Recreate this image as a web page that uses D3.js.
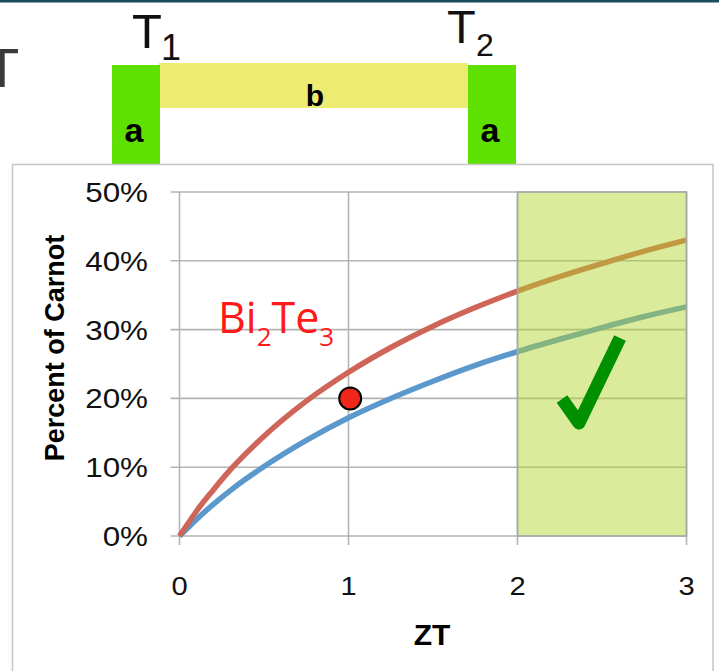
<!DOCTYPE html>
<html>
<head>
<meta charset="utf-8">
<script src="https://cdn.jsdelivr.net/npm/d3@7"></script>
<style>
  html, body { margin: 0; padding: 0; background: #fff; }
  svg { display: block; }
</style>
</head>
<body>
<svg id="chart" width="719" height="671"></svg>
<script>
// ZT values at which the efficiency curves are sampled
const zt = [0, 0.05, 0.1, 0.2, 0.3, 0.5, 0.75, 1, 1.25, 1.5, 1.75, 2, 2.25, 2.5, 2.75, 3];
// Percent of Carnot efficiency (fraction) for the two operating conditions
const upperCurve = [0, 0.018, 0.036, 0.067, 0.096, 0.145, 0.196, 0.238, 0.274, 0.305, 0.332, 0.356, 0.377, 0.396, 0.414, 0.430];
const lowerCurve = [0, 0.012, 0.024, 0.046, 0.066, 0.101, 0.139, 0.172, 0.200, 0.225, 0.248, 0.268, 0.286, 0.303, 0.319, 0.333];
// Bi2Te3 marker
const markerZT = [1.01];
const markerPct = [0.20];
// Axis ticks
const xTicks = [0, 1, 2, 3];
const yTicks = [0, 0.1, 0.2, 0.3, 0.4, 0.5];
// Shaded target band on the ZT axis
const band = [2, 3];

const svg = d3.select("#chart");

// Title bar strip at the very top
svg.append("rect").attr("x", 0).attr("y", 0).attr("width", 719).attr("height", 2.5).attr("fill", "#1c4a5e");

// Thermoelectric leg diagram: legs a, bridge b
svg.append("rect").attr("x", 159).attr("y", 63).attr("width", 309).attr("height", 45).attr("fill", "#eeeb72");
svg.append("rect").attr("x", 112).attr("y", 65).attr("width", 48).attr("height", 99.5).attr("fill", "#5ee000");
svg.append("rect").attr("x", 468).attr("y", 65).attr("width", 48).attr("height", 99.5).attr("fill", "#5ee000");

const bold = "'Liberation Sans', Arial, sans-serif";
svg.append("text").attr("x", 315).attr("y", 106).attr("text-anchor", "middle")
  .attr("font-family", bold).attr("font-weight", "bold").attr("font-size", 30).attr("fill", "#000").text("b");
[134, 490].forEach(cx => {
  svg.append("text").attr("x", cx).attr("y", 142).attr("text-anchor", "middle")
    .attr("font-family", bold).attr("font-weight", "bold").attr("font-size", 34).attr("fill", "#000").text("a");
});

// Temperature labels
svg.append("text").attr("x", -15).attr("y", 87).attr("font-family", bold).attr("font-size", 56).attr("fill", "#3a3a3a").text("T");
svg.append("text").attr("x", 132).attr("y", 48).attr("font-family", bold).attr("font-size", 49).attr("fill", "#111").text("T");
svg.append("text").attr("x", 161).attr("y", 60).attr("font-family", bold).attr("font-size", 36).attr("fill", "#111").text("1");
svg.append("text").attr("x", 447).attr("y", 43).attr("font-family", bold).attr("font-size", 47).attr("fill", "#111").text("T");
svg.append("text").attr("x", 476).attr("y", 56).attr("font-family", bold).attr("font-size", 32).attr("fill", "#111").text("2");

// Chart frame
svg.append("rect").attr("x", 12.5).attr("y", 164.5).attr("width", 700.5).attr("height", 560)
  .attr("fill", "none").attr("stroke", "#c8c8c8").attr("stroke-width", 1.6);

// Scales
const x = d3.scaleLinear().domain([0, 3]).range([179.5, 686.5]);
const y = d3.scaleLinear().domain([0, 0.5]).range([536, 192]);

const gridColor = "#b4b4b4";
const plot = svg.append("g");

// Horizontal gridlines with left tick stubs
plot.selectAll("line.hgrid").data(yTicks).join("line")
  .attr("class", "hgrid")
  .attr("x1", x(0) - 9).attr("x2", x(3))
  .attr("y1", d => y(d)).attr("y2", d => y(d))
  .attr("stroke", gridColor).attr("stroke-width", 1.6);
// Vertical gridlines with bottom tick stubs
plot.selectAll("line.vgrid").data(xTicks).join("line")
  .attr("class", "vgrid")
  .attr("x1", d => x(d)).attr("x2", d => x(d))
  .attr("y1", y(0.5)).attr("y2", y(0) + 9)
  .attr("stroke", gridColor).attr("stroke-width", 1.6);

// Curves
const line = d3.line().x(d => x(d[0])).y(d => y(d[1])).curve(d3.curveMonotoneX);
plot.append("path").datum(zt.map((z, i) => [z, lowerCurve[i]]))
  .attr("d", line).attr("fill", "none").attr("stroke", "#5b98cc").attr("stroke-width", 5.5);
plot.append("path").datum(zt.map((z, i) => [z, upperCurve[i]]))
  .attr("d", line).attr("fill", "none").attr("stroke", "#cf6458").attr("stroke-width", 5.5);

// Translucent target band over the curves
plot.append("rect")
  .attr("x", x(band[0])).attr("y", y(0.5))
  .attr("width", x(band[1]) - x(band[0])).attr("height", y(0) - y(0.5))
  .attr("fill", "rgb(179,213,45)").attr("fill-opacity", 0.47);
plot.append("rect")
  .attr("x", x(band[0])).attr("y", y(0.5))
  .attr("width", x(band[1]) - x(band[0])).attr("height", y(0) - y(0.5))
  .attr("fill", "none").attr("stroke", "#a8a8a8").attr("stroke-width", 1.6);

// Bi2Te3 marker
plot.selectAll("circle.pt").data(markerZT.map((z, i) => [z, markerPct[i]])).join("circle")
  .attr("class", "pt")
  .attr("cx", d => x(d[0])).attr("cy", d => y(d[1])).attr("r", 11)
  .attr("fill", "#f0261a").attr("stroke", "#000").attr("stroke-width", 2);

// Check mark in the band
plot.append("path").attr("d", "M562,399 L579,423 L620,338")
  .attr("fill", "none").attr("stroke", "#009000").attr("stroke-width", 13)
  .attr("stroke-linejoin", "round").attr("stroke-linecap", "butt");

// Tick labels
const tickFont = "'Liberation Sans', Helvetica, Arial, sans-serif";
const stretch = function () {
  const w = this.getComputedTextLength();
  d3.select(this).attr("textLength", w * 1.12).attr("lengthAdjust", "spacingAndGlyphs");
};
const fmt = d3.format(".0%");
svg.selectAll("text.ylab").data(yTicks).join("text")
  .attr("class", "ylab")
  .attr("x", 148).attr("y", d => y(d) + 10)
  .attr("text-anchor", "end")
  .attr("font-family", tickFont).attr("font-size", 28).attr("fill", "#111")
  .text(d => fmt(d)).each(stretch);
svg.selectAll("text.xlab").data(xTicks).join("text")
  .attr("class", "xlab")
  .attr("x", d => x(d)).attr("y", 595)
  .attr("text-anchor", "middle")
  .attr("font-family", tickFont).attr("font-size", 26).attr("fill", "#111")
  .text(d => d).each(stretch);

// Axis titles
svg.append("text").attr("x", 432).attr("y", 645).attr("text-anchor", "middle")
  .attr("font-family", bold).attr("font-weight", "bold").attr("font-size", 30).attr("fill", "#000").text("ZT");
svg.append("text").attr("transform", "translate(64,348) rotate(-90)").attr("text-anchor", "middle")
  .attr("font-family", bold).attr("font-weight", "bold").attr("font-size", 27).attr("fill", "#000").text("Percent of Carnot");

// Material label
const mat = svg.append("text").attr("x", 218).attr("y", 333)
  .attr("font-family", "'Open Sans', sans-serif").attr("font-size", 43).attr("fill", "#ff1a1a");
mat.append("tspan").text("Bi");
mat.append("tspan").attr("dy", 13).attr("font-size", 26).text("2");
mat.append("tspan").attr("dy", -13).text("Te");
mat.append("tspan").attr("dy", 13).attr("font-size", 26).text("3");
</script>
</body>
</html>
